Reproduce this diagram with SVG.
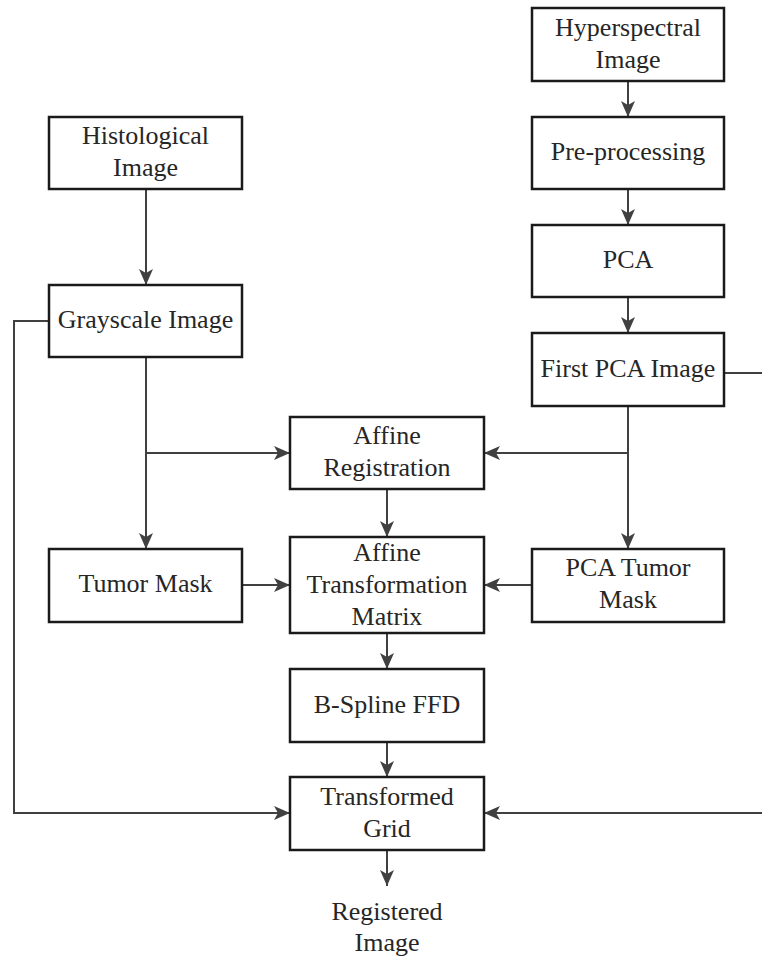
<svg xmlns="http://www.w3.org/2000/svg" width="762" height="961" viewBox="0 0 762 961">
  <style>
    .box { fill: #ffffff; stroke: #1a1a1a; stroke-width: 2.5; }
    .lbl { font-family: "Liberation Serif", "Times New Roman", serif; font-size: 26px; fill: #262626; text-anchor: middle; }
    .conn { fill: none; stroke: #404040; stroke-width: 2; marker-end: url(#arr); }
    .plain { fill: none; stroke: #404040; stroke-width: 2; }
  </style>
  <defs>
    <marker id="arr" markerUnits="userSpaceOnUse" markerWidth="17" markerHeight="14" refX="16" refY="7" orient="auto" viewBox="0 0 17 14">
      <path d="M0,0 L16,7 L0,14 L4,7 z" fill="#404040"/>
    </marker>
  </defs>
  <rect width="762" height="961" fill="#ffffff"/>

  <g id="connectors">
    <line class="conn" x1="628" y1="81" x2="628" y2="117"/>
    <line class="conn" x1="628" y1="189" x2="628" y2="225"/>
    <line class="conn" x1="628" y1="297" x2="628" y2="333"/>
    <line class="conn" x1="146" y1="189" x2="146" y2="285"/>
    <line class="conn" x1="146" y1="357" x2="146" y2="549"/>
    <line class="conn" x1="146" y1="453" x2="290" y2="453"/>
    <line class="conn" x1="628" y1="406" x2="628" y2="549"/>
    <line class="conn" x1="628" y1="453" x2="484" y2="453"/>
    <line class="conn" x1="387" y1="489" x2="387" y2="537"/>
    <line class="conn" x1="242" y1="585" x2="290" y2="585"/>
    <line class="conn" x1="532" y1="585" x2="484" y2="585"/>
    <line class="conn" x1="387" y1="633" x2="387" y2="669"/>
    <line class="conn" x1="387" y1="742" x2="387" y2="777"/>
    <polyline class="conn" points="49,321 14,321 14,813 290,813"/>
    <polyline class="conn" points="724,373 770,373 770,813 484,813"/>
    <line class="conn" x1="387" y1="850" x2="387" y2="886"/>
  </g>

  <g id="hyperspectral">
    <rect class="box" x="532" y="8" width="192" height="73"/>
    <text class="lbl" x="628" y="36">Hyperspectral</text>
    <text class="lbl" x="628" y="68">Image</text>
  </g>
  <g id="preprocessing">
    <rect class="box" x="532" y="117" width="192" height="72"/>
    <text class="lbl" x="628" y="160">Pre-processing</text>
  </g>
  <g id="pca">
    <rect class="box" x="532" y="225" width="192" height="72"/>
    <text class="lbl" x="628" y="268">PCA</text>
  </g>
  <g id="first-pca">
    <rect class="box" x="532" y="333" width="192" height="73"/>
    <text class="lbl" x="628" y="377">First PCA Image</text>
  </g>
  <g id="histological">
    <rect class="box" x="49" y="117" width="193" height="72"/>
    <text class="lbl" x="145.5" y="144">Histological</text>
    <text class="lbl" x="145.5" y="176">Image</text>
  </g>
  <g id="grayscale">
    <rect class="box" x="49" y="285" width="193" height="72"/>
    <text class="lbl" x="145.5" y="328">Grayscale Image</text>
  </g>
  <g id="affine-registration">
    <rect class="box" x="290" y="417" width="194" height="72"/>
    <text class="lbl" x="387" y="444">Affine</text>
    <text class="lbl" x="387" y="476">Registration</text>
  </g>
  <g id="tumor-mask">
    <rect class="box" x="49" y="549" width="193" height="73"/>
    <text class="lbl" x="145.5" y="592">Tumor Mask</text>
  </g>
  <g id="affine-transformation-matrix">
    <rect class="box" x="290" y="537" width="194" height="96"/>
    <text class="lbl" x="387" y="561">Affine</text>
    <text class="lbl" x="387" y="593">Transformation</text>
    <text class="lbl" x="387" y="625">Matrix</text>
  </g>
  <g id="pca-tumor-mask">
    <rect class="box" x="532" y="549" width="192" height="73"/>
    <text class="lbl" x="628" y="576">PCA Tumor</text>
    <text class="lbl" x="628" y="608">Mask</text>
  </g>
  <g id="bspline-ffd">
    <rect class="box" x="290" y="669" width="194" height="73"/>
    <text class="lbl" x="387" y="713">B-Spline FFD</text>
  </g>
  <g id="transformed-grid">
    <rect class="box" x="290" y="777" width="194" height="73"/>
    <text class="lbl" x="387" y="805">Transformed</text>
    <text class="lbl" x="387" y="837">Grid</text>
  </g>
  <g id="registered-image">
    <text class="lbl" x="387" y="920">Registered</text>
    <text class="lbl" x="387" y="951">Image</text>
  </g>
</svg>
